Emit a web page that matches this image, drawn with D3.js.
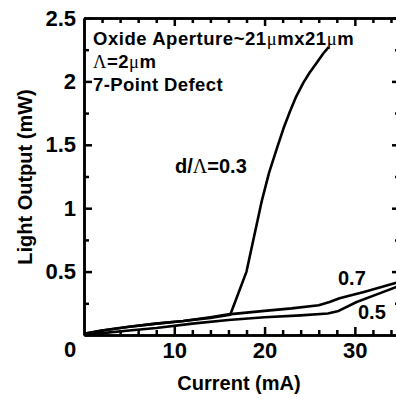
<!DOCTYPE html>
<html><head><meta charset="utf-8">
<script src="https://cdn.jsdelivr.net/npm/d3@7"></script>
<style>
body{margin:0;background:#fff;}
text{font-family:"Liberation Sans",Arial,sans-serif;font-weight:bold;fill:#000;}
.serif{font-family:"Liberation Serif","Times New Roman",serif;font-weight:normal;}
</style></head><body>
<svg id="c" width="396" height="399"></svg>
<script>
// ---- data ----
const curve03 = [[0,0.01],[2,0.035],[5,0.065],[8,0.09],[11,0.11],[14,0.135],[16.2,0.16],[18,0.5],[19.7,1.06],[20.5,1.28],[21.4,1.48],[22.1,1.63],[22.8,1.76],[23.5,1.88],[24.3,1.99],[25.0,2.07],[25.8,2.15],[26.5,2.22],[27.1,2.27]];
const curve07 = [[0,0.01],[2,0.035],[5,0.065],[8,0.09],[11,0.11],[14,0.14],[16,0.163],[20,0.19],[23,0.21],[26,0.235],[27.2,0.26],[28.3,0.29],[31,0.34],[34.5,0.41],[35,0.42]];
const curve05 = [[0,0.005],[2,0.015],[5,0.035],[8,0.055],[12,0.09],[16,0.118],[20,0.14],[24,0.155],[27,0.17],[28.2,0.19],[30.2,0.26],[32.8,0.33],[35,0.39]];
const xMajor = [10,20,30];
const xMinor = [2,4,6,8,12,14,16,18,22,24,26,28,32,34];
const yMajor = [0.5,1,1.5,2,2.5];
const yMinor = [0.25,0.75,1.25,1.75,2.25];

const svg = d3.select("#c");
const x = d3.scaleLinear().domain([0,35]).range([84,400]);
const y = d3.scaleLinear().domain([0,2.5]).range([335,18]);

function styleAxis(g){
  g.selectAll("path,line").attr("stroke","#000").attr("stroke-width",2.5);
  g.selectAll("text").style("font-size","22px").attr("fill","#000");
}
// minor ticks
svg.append("g").attr("transform",`translate(0,${y(0)})`).call(d3.axisBottom(x).tickValues(xMinor).tickSize(-5).tickSizeOuter(0).tickFormat("")).call(styleAxis);
svg.append("g").attr("transform",`translate(0,${y(2.5)})`).call(d3.axisTop(x).tickValues(xMinor).tickSize(-5).tickSizeOuter(0).tickFormat("")).call(styleAxis);
svg.append("g").attr("transform",`translate(${x(0)},0)`).call(d3.axisLeft(y).tickValues(yMinor).tickSize(-5).tickSizeOuter(0).tickFormat("")).call(styleAxis);
svg.append("g").attr("transform",`translate(${x(35)},0)`).call(d3.axisRight(y).tickValues(yMinor).tickSize(-5).tickSizeOuter(0).tickFormat("")).call(styleAxis);
// major ticks
svg.append("g").attr("transform",`translate(0,${y(0)})`).call(d3.axisBottom(x).tickValues(xMajor).tickSize(-8).tickSizeOuter(0).tickPadding(7).tickFormat(d3.format("d"))).call(styleAxis);
svg.append("g").attr("transform",`translate(0,${y(2.5)})`).call(d3.axisTop(x).tickValues(xMajor).tickSize(-8).tickSizeOuter(0).tickFormat("")).call(styleAxis);
svg.append("g").attr("transform",`translate(${x(0)},0)`).call(d3.axisLeft(y).tickValues(yMajor).tickSize(-8).tickSizeOuter(0).tickPadding(8).tickFormat(d=>String(d))).call(styleAxis);
svg.append("g").attr("transform",`translate(${x(35)},0)`).call(d3.axisRight(y).tickValues(yMajor).tickSize(-8).tickSizeOuter(0).tickFormat("")).call(styleAxis);
// origin label
svg.append("text").attr("x",x(0)-14).attr("y",357).attr("text-anchor","middle").style("font-size","22px").text("0");

// curves
const line = d3.line().x(d=>x(d[0])).y(d=>y(d[1]));
[curve03,curve07,curve05].forEach(c=>{
  svg.append("path").datum(c).attr("d",line).attr("fill","none").attr("stroke","#000").attr("stroke-width",2.6).attr("stroke-linejoin","round");
});

// axis titles
svg.append("text").attr("x",239).attr("y",390).attr("text-anchor","middle").style("font-size","20px").text("Current (mA)");
svg.append("text").attr("transform","translate(32,177) rotate(-90)").attr("text-anchor","middle").style("font-size","20px").text("Light Output (mW)");

// annotations
const t1 = svg.append("text").attr("x",93).attr("y",45).style("font-size","18.5px").style("letter-spacing","0.55px");
t1.append("tspan").text("Oxide Aperture~21");
t1.append("tspan").attr("class","serif").text("μ");
t1.append("tspan").text("mx21");
t1.append("tspan").attr("class","serif").text("μ");
t1.append("tspan").text("m");
const t2 = svg.append("text").attr("x",93).attr("y",68).style("font-size","18.5px").style("letter-spacing","0.5px");
t2.append("tspan").attr("class","serif").text("Λ");
t2.append("tspan").text("=2");
t2.append("tspan").attr("class","serif").text("μ");
t2.append("tspan").text("m");
svg.append("text").attr("x",93).attr("y",91).style("font-size","18.5px").style("letter-spacing","0.4px").text("7-Point Defect");
const t4 = svg.append("text").attr("x",175).attr("y",173).style("font-size","20px");
t4.append("tspan").text("d/");
t4.append("tspan").attr("class","serif").text("Λ");
t4.append("tspan").text("=0.3");
svg.append("text").attr("x",338).attr("y",285).style("font-size","20px").text("0.7");
svg.append("text").attr("x",358).attr("y",319).style("font-size","20px").text("0.5");
</script></body></html>
